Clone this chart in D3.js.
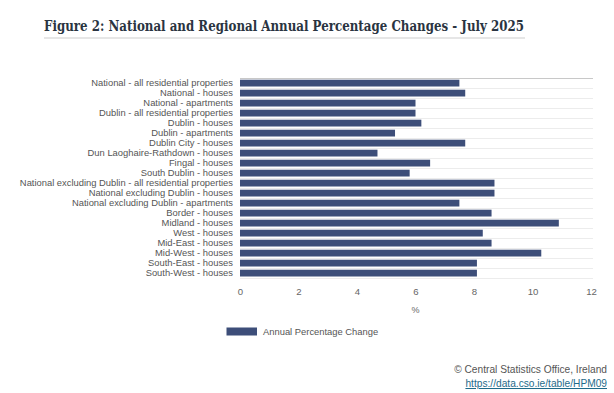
<!DOCTYPE html>
<html><head><meta charset="utf-8">
<script src="https://cdn.jsdelivr.net/npm/d3@7"></script>
<style>body{margin:0;background:#fff}svg{display:block}</style>
</head><body>
<svg id="c" width="614" height="393"></svg>
<script>
const categories = [
  "National - all residential properties","National - houses","National - apartments",
  "Dublin - all residential properties","Dublin - houses","Dublin - apartments",
  "Dublin City - houses","Dun Laoghaire-Rathdown - houses","Fingal - houses",
  "South Dublin - houses","National excluding Dublin - all residential properties",
  "National excluding Dublin - houses","National excluding Dublin - apartments",
  "Border - houses","Midland - houses","West - houses","Mid-East - houses",
  "Mid-West - houses","South-East - houses","South-West - houses"
];
const values = [7.5,7.7,6.0,6.0,6.2,5.3,7.7,4.7,6.5,5.8,8.7,8.7,7.5,8.6,10.9,8.3,8.6,10.3,8.1,8.1];
const xTicks = [0,2,4,6,8,10,12];
const seriesName = "Annual Percentage Change";

(function(){
const svg = d3.select("#c");
const pL = 240, pR = 591, pT = 78, pB = 278;
const x = d3.scaleLinear().domain([0,12]).range([pL,pR]);
const y = d3.scaleBand().domain(categories).range([pT,pB]).paddingInner(0).paddingOuter(0);
const font = "'Liberation Sans', Arial, sans-serif";

svg.append("text").attr("x",44).attr("y",31)
  .attr("font-family","'DejaVu Serif', serif").attr("font-weight","bold").attr("font-size",14)
  .attr("fill","#2a3441").attr("textLength",480).attr("lengthAdjust","spacingAndGlyphs")
  .text("Figure 2: National and Regional Annual Percentage Changes - July 2025");
svg.append("rect").attr("x",44).attr("y",37).attr("width",481).attr("height",2).attr("fill","#e6e6e6");

const n = categories.length;
const seps = d3.range(n+1).map(i => pT + y.step()*i);
svg.append("g").selectAll("line").data(seps).join("line")
  .attr("x1",pL).attr("x2",pR+2).attr("y1",d=>Math.round(d)+0.5).attr("y2",d=>Math.round(d)+0.5)
  .attr("stroke",(d,i)=> i===0 ? "#c8c8c8" : "#ececec").attr("stroke-width",1);

svg.append("g").selectAll("rect").data(values).join("rect")
  .attr("x",x(0)).attr("width",d=>x(d)-x(0))
  .attr("y",(d,i)=> y(categories[i]) + 1.7).attr("height",y.bandwidth()-3.2)
  .attr("fill","#3d4e79");

svg.append("g").selectAll("text").data(categories).join("text")
  .attr("x",233).attr("y",d=> y(d) + y.bandwidth()/2 + 3.4)
  .attr("text-anchor","end").attr("font-family",font)
  .attr("font-size",9.4).attr("fill","#555").text(d=>d);

const xa = svg.append("g").attr("transform",`translate(0,${pB})`)
  .call(d3.axisBottom(x).tickValues(xTicks).tickSize(0).tickPadding(10));
xa.select(".domain").remove();
xa.selectAll("text").attr("font-family",font).attr("font-size",9.6).attr("fill","#666");

svg.append("text").attr("x",x(6)).attr("y",312.5).attr("text-anchor","middle")
  .attr("font-family",font).attr("font-size",9).attr("fill","#666").text("%");

svg.append("rect").attr("x",226.5).attr("y",327.5).attr("width",30.5).attr("height",8).attr("fill","#3d4e79");
svg.append("text").attr("x",263).attr("y",334.5).attr("font-family",font)
  .attr("font-size",9.4).attr("fill","#555").text(seriesName);

svg.append("text").attr("x",607).attr("y",373).attr("text-anchor","end")
  .attr("font-family",font).attr("font-size",10.2).attr("fill","#555")
  .text("© Central Statistics Office, Ireland");
svg.append("text").attr("x",607).attr("y",387).attr("text-anchor","end")
  .attr("font-family",font).attr("font-size",10.2).attr("fill","#1f6b8a")
  .attr("text-decoration","underline").text("https://data.cso.ie/table/HPM09");
})();
</script>
</body></html>
